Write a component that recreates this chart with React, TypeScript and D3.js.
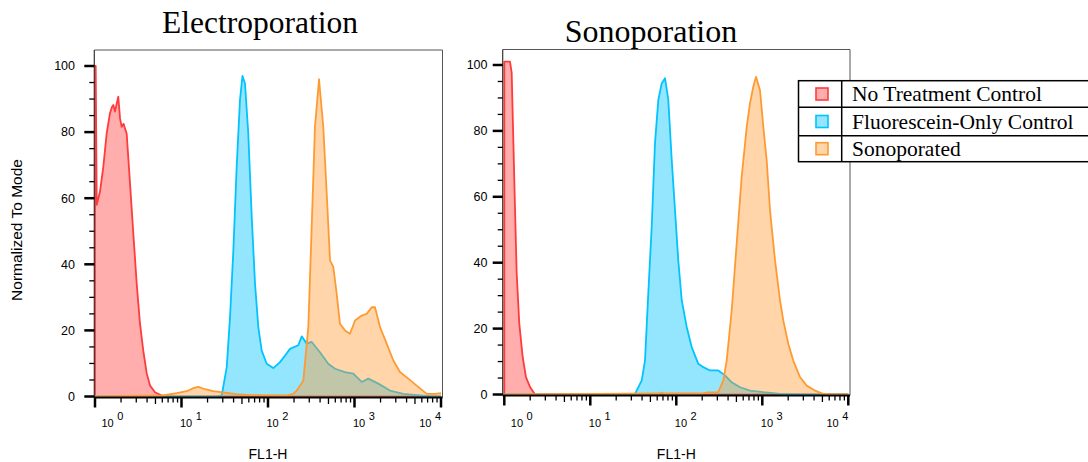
import React, { useRef, useEffect } from 'react';
import * as d3 from 'd3';

// points are [log10(FL1-H), % of mode]
const electroNoTreatment = [
  [0, 0], [0, 100], [0.008, 100], [0.02, 58], [0.058, 62], [0.096, 69.5], [0.135, 79.6],
  [0.173, 85.7], [0.195, 87.5], [0.212, 88.2], [0.231, 86.2], [0.25, 88.5], [0.269, 90.7],
  [0.29, 84], [0.309, 81.6], [0.33, 82.5], [0.347, 81.1], [0.366, 79.6], [0.405, 64.4],
  [0.443, 49.3], [0.482, 34.2], [0.52, 22.1], [0.558, 13.9], [0.598, 7], [0.636, 3.3],
  [0.694, 1.3], [0.771, 0.3], [0.85, 0], [4, 0],
];
const electroFluorescein = [
  [0, 0], [1.4, 0], [1.465, 0.3], [1.523, 8.9], [1.561, 24], [1.599, 44], [1.638, 69.5],
  [1.676, 89.7], [1.705, 97], [1.734, 94.7], [1.772, 79.6], [1.812, 54.3], [1.85, 34.1],
  [1.888, 21], [1.927, 13.9], [1.985, 9.9], [2.061, 8.6], [2.139, 10.4], [2.2, 12.5],
  [2.254, 14.4], [2.35, 15.5], [2.39, 18.2], [2.447, 16], [2.505, 16.5], [2.601, 13.4],
  [2.697, 9.9], [2.775, 8.4], [2.89, 7.4], [2.986, 6.9], [3.083, 4.4], [3.16, 5.4],
  [3.275, 3.9], [3.41, 1.8], [3.564, 0.8], [3.757, 0.3], [3.9, 0], [4, 0],
];
const electroTreated = [
  [0, 0], [0.786, 0.3], [0.945, 1], [1.06, 1.6], [1.133, 2.5], [1.194, 2.9], [1.272, 2.2],
  [1.364, 1.6], [1.503, 1.2], [1.638, 0.7], [1.792, 0.4], [2.216, 0.3], [2.29, 0.8],
  [2.332, 1.8], [2.408, 4.8], [2.466, 21], [2.505, 51.3], [2.543, 81.6], [2.59, 96],
  [2.639, 81.6], [2.679, 61.4], [2.717, 41.2], [2.755, 39.2], [2.794, 31.1], [2.832, 22],
  [2.89, 20], [2.948, 19], [3.006, 23], [3.083, 24.5], [3.141, 25], [3.199, 27], [3.237, 27],
  [3.295, 21], [3.372, 16], [3.449, 10.9], [3.526, 7.4], [3.622, 5.4], [3.719, 3.3],
  [3.835, 0.8], [3.931, 0.8], [4, 1],
];
const sonoNoTreatment = [
  [0, 0], [0, 101], [0.066, 101], [0.086, 97.6], [0.105, 77.2], [0.124, 57], [0.144, 36.8],
  [0.174, 21.6], [0.214, 11.3], [0.252, 5.3], [0.299, 2.3], [0.357, 0], [4, 0],
];
const sonoFluorescein = [
  [0, 0], [1.45, 0], [1.52, 0.2], [1.598, 4.3], [1.636, 10.3], [1.674, 30.6], [1.714, 50.9],
  [1.752, 76.2], [1.791, 89.4], [1.83, 94.4], [1.869, 96], [1.907, 89.4], [1.947, 71.1],
  [1.985, 55.9], [2.023, 40.7], [2.063, 28.6], [2.121, 20.5], [2.179, 14.4], [2.256, 9.3],
  [2.314, 8.3], [2.392, 7.3], [2.488, 7.3], [2.566, 5.8], [2.644, 3.7], [2.741, 2.2],
  [2.857, 1.2], [3.012, 0.7], [3.206, 0.2], [3.43, 0], [4, 0],
];
const sonoTreated = [
  [0, 0], [1.1, 0.2], [1.8, 0.3], [1.83, 0.6], [1.86, 0.3], [2.3, 0.3], [2.353, 0.6],
  [2.488, 0.7], [2.547, 4.3], [2.586, 10.3], [2.644, 25.5], [2.702, 45.8], [2.76, 66],
  [2.819, 81.2], [2.857, 88.4], [2.895, 93.4], [2.927, 96.4], [2.973, 92.4], [3.012, 81.2],
  [3.051, 71.1], [3.09, 55.9], [3.148, 40.7], [3.206, 28.6], [3.244, 22.5], [3.302, 15.4],
  [3.36, 10.3], [3.438, 5.3], [3.516, 2.7], [3.612, 1.2], [3.709, 0.2], [3.8, 0], [4, 0],
];

const yTicks = [0, 20, 40, 60, 80, 100];
const yMinorTicks = [5, 10, 15, 25, 30, 35, 45, 50, 55, 65, 70, 75, 85, 90, 95];
const decades = [0, 1, 2, 3, 4];
const seriesNames = ['No Treatment Control', 'Fluorescein-Only Control', 'Sonoporated'];
const lineColors = ['#ff3b3b', '#00c3ff', '#ff9a33'];

const SANS = 'Helvetica, Arial, "Liberation Sans", sans-serif';
const SERIF = '"Liberation Serif", "Times New Roman", serif';

const panels = [
  {
    id: 'electro', title: 'Electroporation', titleX: 260, titleY: 33, titleSize: 31.5,
    left: 94.3, right: 442.5, top: 50, bottom: 397.5,
    xr: [95, 441], yr: [396.5, 66], labelEnd: 75,
    series: [electroNoTreatment, electroFluorescein, electroTreated],
  },
  {
    id: 'sono', title: 'Sonoporation', titleX: 651, titleY: 42, titleSize: 32,
    left: 502.7, right: 850, top: 49.5, bottom: 395.5,
    xr: [504.3, 848.3], yr: [394.5, 65], labelEnd: 487.5,
    series: [sonoNoTreatment, sonoFluorescein, sonoTreated],
  },
];

const App = () => {
  const svgRef = useRef();

  useEffect(() => {
    const svg = d3.select(svgRef.current);
    svg.selectAll('*').remove();

    panels.forEach((p) => {
      const xScale = d3.scaleLog().domain([1, 1e4]).range(p.xr);
      const yScale = d3.scaleLinear().domain([0, 100]).range(p.yr);
      const g = svg.append('g');

      // title
      g.append('text')
        .attr('x', p.titleX)
        .attr('y', p.titleY)
        .attr('text-anchor', 'middle')
        .style('font-family', SERIF)
        .style('font-size', p.titleSize + 'px')
        .text(p.title);

      g.append('clipPath')
        .attr('id', 'clip-' + p.id)
        .append('rect')
        .attr('x', p.left)
        .attr('y', p.top)
        .attr('width', p.right - p.left)
        .attr('height', p.bottom - p.top + 1);

      const area = d3
        .area()
        .x((d) => xScale(Math.pow(10, d[0])))
        .y0(yScale(0))
        .y1((d) => yScale(d[1]));
      const line = d3
        .line()
        .x((d) => xScale(Math.pow(10, d[0])))
        .y((d) => yScale(d[1]));

      const plot = g.append('g').attr('clip-path', `url(#clip-${p.id})`);
      p.series.forEach((s, i) => {
        plot.append('path')
          .attr('d', area(s))
          .attr('fill', lineColors[i])
          .attr('fill-opacity', 0.42);
        plot.append('path')
          .attr('d', line(s))
          .attr('fill', 'none')
          .attr('stroke', lineColors[i])
          .attr('stroke-width', 1.8)
          .attr('stroke-linejoin', 'round');
      });

      // frame (top and right)
      g.append('path')
        .attr('d', `M${p.left},${p.top}H${p.right}V${p.bottom}`)
        .attr('fill', 'none')
        .attr('stroke', '#555')
        .attr('stroke-width', 1);

      // y axis
      g.append('line')
        .attr('x1', p.left).attr('x2', p.left)
        .attr('y1', p.top).attr('y2', p.bottom)
        .attr('stroke', '#333')
        .attr('stroke-width', 1.2);
      g.selectAll('.ymaj')
        .data(yTicks)
        .join('line')
        .attr('x1', p.left - 10).attr('x2', p.left)
        .attr('y1', (d) => yScale(d)).attr('y2', (d) => yScale(d))
        .attr('stroke', '#000')
        .attr('stroke-width', 2.5);
      g.selectAll('.ymin')
        .data(yMinorTicks)
        .join('line')
        .attr('x1', p.left - 5).attr('x2', p.left)
        .attr('y1', (d) => yScale(d)).attr('y2', (d) => yScale(d))
        .attr('stroke', '#000')
        .attr('stroke-width', 1.3);
      g.selectAll('.ylab')
        .data(yTicks)
        .join('text')
        .attr('x', p.labelEnd)
        .attr('y', (d) => yScale(d))
        .attr('dy', '0.35em')
        .attr('text-anchor', 'end')
        .style('font-family', SANS)
        .style('font-size', '12.5px')
        .text((d) => d);

      // x axis
      g.append('line')
        .attr('x1', p.left).attr('x2', p.right)
        .attr('y1', p.bottom).attr('y2', p.bottom)
        .attr('stroke', '#000')
        .attr('stroke-width', 2);
      g.selectAll('.xmaj')
        .data(decades)
        .join('line')
        .attr('x1', (d) => xScale(Math.pow(10, d))).attr('x2', (d) => xScale(Math.pow(10, d)))
        .attr('y1', p.bottom).attr('y2', p.bottom + 10)
        .attr('stroke', '#000')
        .attr('stroke-width', 2.5);
      const minors = [];
      decades.slice(0, 4).forEach((d) => {
        for (let k = 2; k <= 9; k++) minors.push(k * Math.pow(10, d));
      });
      g.selectAll('.xmin')
        .data(minors)
        .join('line')
        .attr('x1', (d) => xScale(d)).attr('x2', (d) => xScale(d))
        .attr('y1', p.bottom).attr('y2', (d) => p.bottom + (String(d)[0] === '5' ? 6.5 : 5))
        .attr('stroke', '#000')
        .attr('stroke-width', 1.3);
      const xlab = g.selectAll('.xlab')
        .data(decades)
        .join('text')
        .attr('x', (d, i) => {
          const t = xScale(Math.pow(10, d));
          if (i === 0) return t + 6.5;
          if (i === decades.length - 1) return t;
          return t - 1.5;
        })
        .attr('y', 427)
        .attr('text-anchor', (d, i) => (i === decades.length - 1 ? 'end' : 'start'))
        .style('font-family', SANS)
        .style('font-size', '11px');
      xlab.append('tspan').text('10');
      xlab.append('tspan').attr('dx', 3.5).attr('dy', -7.5).text((d) => d);

      g.append('text')
        .attr('x', (p.xr[0] + p.xr[1]) / 2)
        .attr('y', 459)
        .attr('text-anchor', 'middle')
        .style('font-family', SANS)
        .style('font-size', '14px')
        .text('FL1-H');
    });

    // y axis title
    svg.append('text')
      .attr('transform', 'translate(22,230) rotate(-90)')
      .attr('text-anchor', 'middle')
      .style('font-family', SANS)
      .style('font-size', '15.5px')
      .text('Normalized To Mode');

    // legend table
    const legend = svg.append('g');
    const rows = [80.7, 107.3, 135.7, 161.7];
    legend.append('rect')
      .attr('x', 798.5).attr('y', rows[0])
      .attr('width', 300).attr('height', rows[3] - rows[0])
      .attr('fill', '#fff')
      .attr('stroke', '#000')
      .attr('stroke-width', 1.5);
    legend.selectAll('.row')
      .data(rows.slice(1, 3))
      .join('line')
      .attr('x1', 798.5).attr('x2', 1100)
      .attr('y1', (d) => d).attr('y2', (d) => d)
      .attr('stroke', '#000')
      .attr('stroke-width', 1.5);
    legend.append('line')
      .attr('x1', 841.7).attr('x2', 841.7)
      .attr('y1', rows[0]).attr('y2', rows[3])
      .attr('stroke', '#000')
      .attr('stroke-width', 1.5);
    seriesNames.forEach((name, i) => {
      const cy = (rows[i] + rows[i + 1]) / 2;
      legend.append('rect')
        .attr('x', 816).attr('y', cy - 6)
        .attr('width', 12).attr('height', 12)
        .attr('fill', lineColors[i])
        .attr('fill-opacity', 0.42)
        .attr('stroke', lineColors[i])
        .attr('stroke-width', 1.6);
      legend.append('text')
        .attr('x', 852)
        .attr('y', cy + 7)
        .style('font-family', SERIF)
        .style('font-size', '21.5px')
        .text(name);
    });
  }, []);

  return (
    <svg
      ref={svgRef}
      width={1088}
      height={462}
      style={{ position: 'absolute', left: 0, top: 0, background: '#fff' }}
    ></svg>
  );
};

export default App;
